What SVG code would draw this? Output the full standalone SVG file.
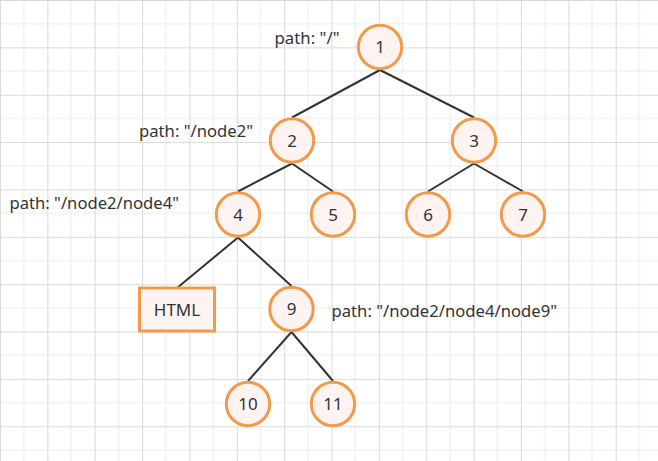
<svg xmlns="http://www.w3.org/2000/svg" width="658" height="461" viewBox="0 0 658 461">
<style>
.node circle,.node rect{fill:#fdf4f1;stroke:#f2994a;stroke-width:3}
.num{font-family:"Noto Sans","Liberation Sans",sans-serif;font-size:17px;fill:#333;text-anchor:middle}
.lbl{font-family:"Noto Sans","Liberation Sans",sans-serif;font-size:17px;fill:#333}
#edges line{stroke:#333;stroke-width:2}
</style>
<defs>
<pattern id="grid" patternUnits="userSpaceOnUse" width="47.36" height="47.36">
<path d="M23.68 0V47.36M0 23.68H47.36" stroke="#ececec" stroke-width="1" fill="none"/>
<path d="M0.5 0V47.36M0 0.5H47.36" stroke="#dadada" stroke-width="1" fill="none"/>
</pattern>
</defs>
<rect width="658" height="461" fill="#fff"/>
<rect width="658" height="461" fill="url(#grid)"/>
<g id="edges">
<line x1="380" y1="70" x2="292" y2="117.5"/>
<line x1="380" y1="70" x2="474" y2="117.5"/>
<line x1="292" y1="163.5" x2="238" y2="191.5"/>
<line x1="292" y1="163.5" x2="333" y2="191.5"/>
<line x1="474" y1="163.5" x2="428" y2="191.5"/>
<line x1="474" y1="163.5" x2="523" y2="191.5"/>
<line x1="238" y1="237.5" x2="177" y2="288"/>
<line x1="238" y1="237.5" x2="291.5" y2="286"/>
<line x1="291.5" y1="332" x2="248" y2="381"/>
<line x1="291.5" y1="332" x2="333" y2="381"/>
</g>
<g id="node1" class="node"><circle cx="380" cy="47" r="21.7"/><text class="num" x="380" y="53">1</text></g>
<g id="node2" class="node"><circle cx="292" cy="140.5" r="21.7"/><text class="num" x="292" y="146.5">2</text></g>
<g id="node3" class="node"><circle cx="474" cy="140.5" r="21.7"/><text class="num" x="474" y="146.5">3</text></g>
<g id="node4" class="node"><circle cx="238" cy="214.5" r="21.7"/><text class="num" x="238" y="220.5">4</text></g>
<g id="node5" class="node"><circle cx="333" cy="214.5" r="21.7"/><text class="num" x="333" y="220.5">5</text></g>
<g id="node6" class="node"><circle cx="428" cy="214.5" r="21.7"/><text class="num" x="428" y="220.5">6</text></g>
<g id="node7" class="node"><circle cx="523" cy="214.5" r="21.7"/><text class="num" x="523" y="220.5">7</text></g>
<g id="nodeHTML" class="node"><rect x="139.5" y="288" width="75" height="43"/><text class="num" x="177" y="315.5">HTML</text></g>
<g id="node9" class="node"><circle cx="291.5" cy="309" r="21.7"/><text class="num" x="291.5" y="315">9</text></g>
<g id="node10" class="node"><circle cx="248" cy="404" r="21.7"/><text class="num" x="248" y="410">10</text></g>
<g id="node11" class="node"><circle cx="333" cy="404" r="21.7"/><text class="num" x="333" y="410">11</text></g>
<g id="labels">
<text class="lbl" x="274.5" y="43.5" textLength="65" lengthAdjust="spacingAndGlyphs">path: "/"</text>
<text class="lbl" x="139" y="136.5" textLength="114" lengthAdjust="spacingAndGlyphs">path: "/node2"</text>
<text class="lbl" x="9.5" y="208.5" textLength="169.5" lengthAdjust="spacingAndGlyphs">path: "/node2/node4"</text>
<text class="lbl" x="331.5" y="316.5" textLength="225.5" lengthAdjust="spacingAndGlyphs">path: "/node2/node4/node9"</text>
</g>
</svg>
